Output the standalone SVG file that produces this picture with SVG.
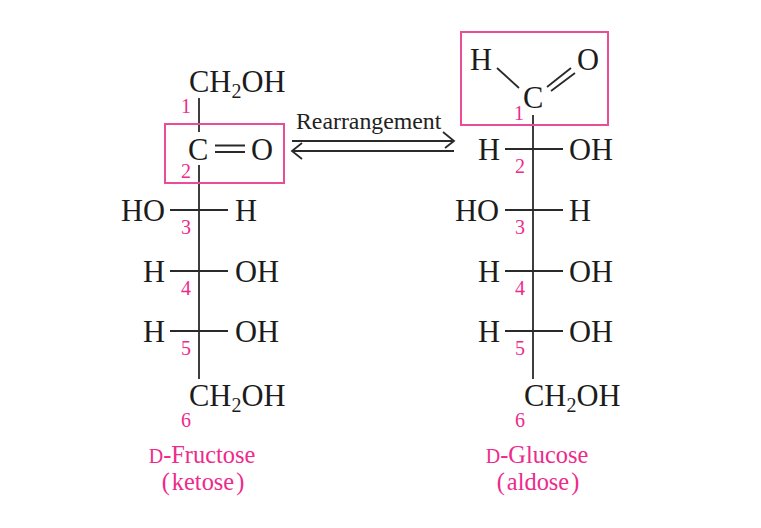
<svg xmlns="http://www.w3.org/2000/svg" width="761" height="528" viewBox="0 0 761 528">
<defs><style>
text{font-family:"Liberation Serif","Times New Roman",serif}
.a{font-size:30.500px;fill:#1c1c1c}
.s{font-size:20px}
.n{font-size:20px;fill:#ee2a8c}
.c{font-size:24.400px;fill:#ee2a8c}
.sc{font-size:20px}
.r{font-size:23.800px;fill:#222}
.box{fill:none;stroke:#ea4c98;stroke-width:2}
.l{fill:none;stroke:#2a2a2a;stroke-width:1.800}
.m{text-anchor:middle}
</style></defs>
<rect width="761" height="528" fill="#fff"/>
<g id="connectors">
<path class="l" d="M199 98V132M199 165V379M170 210H228M170 271H228M170 331H228"/>
<path class="l" d="M215 145.500H245M215 152H245"/>
<path class="l" d="M533 115V379M505 149H563M505 210H563M505 271H563M505 331H563"/>
<path class="l" d="M497 68L519 88M547 87L571 68M551 91L575 73"/>
<path class="l" d="M292 141H454M443 132L454 141L445 148M292 151H454M302 143L292 151L302 159"/>
</g>
<g id="fructose">
<rect class="box" x="165" y="124" width="119" height="59"/>
<text class="a" x="189" y="92">CH<tspan class="s" dy="6">2</tspan><tspan dy="-6">OH</tspan></text>
<text class="a" x="188" y="160">C</text><text class="a" x="251" y="160">O</text>
<text class="a" x="121" y="221">HO</text><text class="a" x="235" y="221">H</text>
<text class="a" x="143" y="282">H</text><text class="a" x="235" y="282">OH</text>
<text class="a" x="143" y="342">H</text><text class="a" x="235" y="342">OH</text>
<text class="a" x="189" y="406">CH<tspan class="s" dy="6">2</tspan><tspan dy="-6">OH</tspan></text>
<text class="n m" x="186" y="113">1</text><text class="n m" x="186" y="178">2</text><text class="n m" x="186" y="234">3</text><text class="n m" x="186" y="295">4</text><text class="n m" x="186" y="355">5</text><text class="n m" x="186" y="427">6</text>
<text class="c m" x="202" y="463"><tspan class="sc">D</tspan>-Fructose</text>
<text class="c m" x="203" y="490">(<tspan dx="2">ketose</tspan><tspan dx="2">)</tspan></text>
</g>
<g id="glucose">
<rect class="box" x="461" y="32" width="147" height="93"/>
<text class="a" x="470" y="70">H</text><text class="a" x="577" y="70">O</text><text class="a" x="523" y="108">C</text>
<text class="a" x="478" y="160">H</text><text class="a" x="569" y="160">OH</text>
<text class="a" x="455" y="221">HO</text><text class="a" x="569" y="221">H</text>
<text class="a" x="478" y="282">H</text><text class="a" x="569" y="282">OH</text>
<text class="a" x="478" y="342">H</text><text class="a" x="569" y="342">OH</text>
<text class="a" x="524" y="406">CH<tspan class="s" dy="6">2</tspan><tspan dy="-6">OH</tspan></text>
<text class="n m" x="519" y="120">1</text><text class="n m" x="520" y="173">2</text><text class="n m" x="520" y="234">3</text><text class="n m" x="520" y="295">4</text><text class="n m" x="520" y="355">5</text><text class="n m" x="520" y="427">6</text>
<text class="c m" x="537" y="463"><tspan class="sc">D</tspan>-Glucose</text>
<text class="c m" x="538" y="490">(<tspan dx="2">aldose</tspan><tspan dx="2">)</tspan></text>
</g>
<g id="label"><text class="r" x="296" y="129">Rearrangement</text></g>
</svg>
